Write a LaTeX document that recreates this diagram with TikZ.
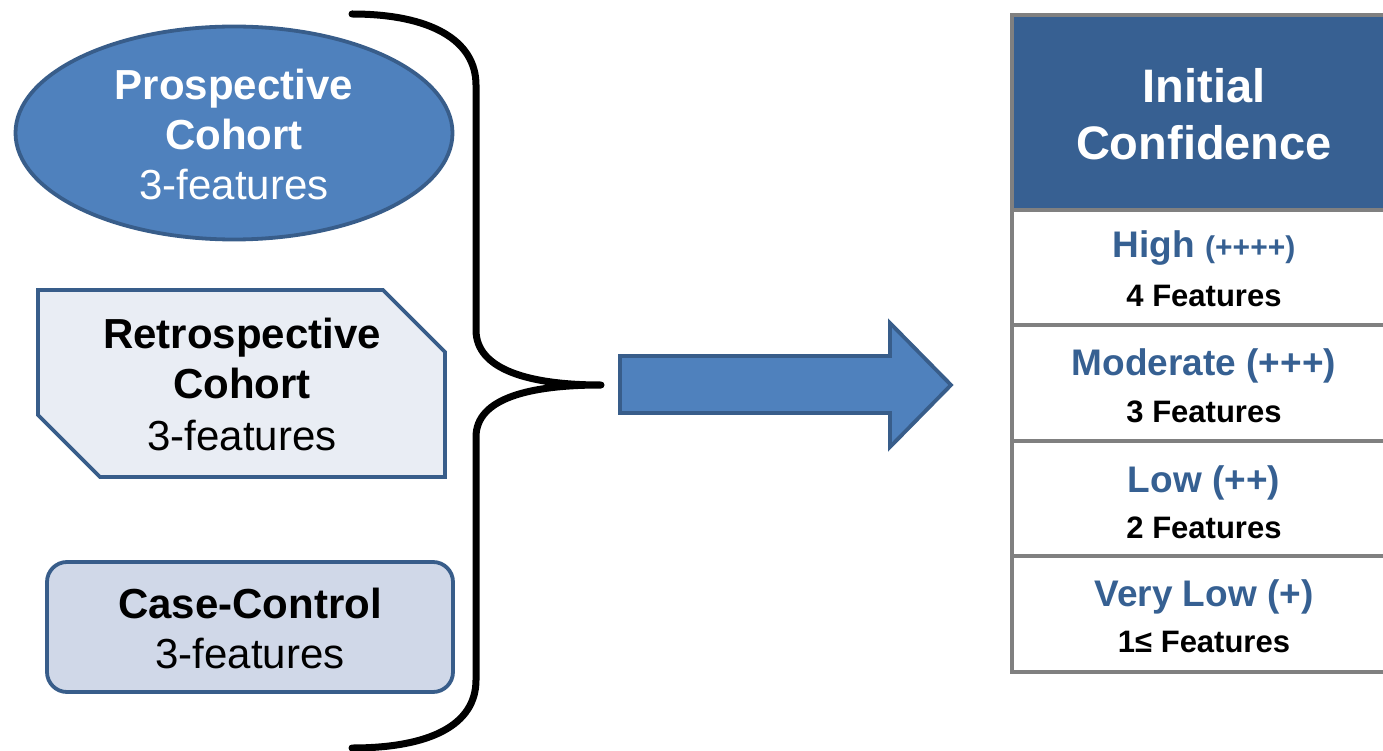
\documentclass[tikz,border=0pt]{standalone}
\usepackage{fontspec}
\setmainfont{Liberation Sans}
\usetikzlibrary{shapes.geometric}

\definecolor{accent}{HTML}{4F81BD}
\definecolor{accentline}{HTML}{385D8A}
\definecolor{headerfill}{HTML}{376092}
\definecolor{paleA}{HTML}{E9EDF4}
\definecolor{paleB}{HTML}{D0D8E8}
\definecolor{rulegray}{HTML}{808080}
\definecolor{levelblue}{HTML}{366092}

\tikzset{
  big/.style={font=\fontsize{42}{50}\selectfont},
  bigbold/.style={font=\bfseries\fontsize{42}{50}\selectfont},
  titletext/.style={font=\bfseries\fontsize{47}{56}\selectfont, text=white},
  leveltext/.style={font=\bfseries\fontsize{37}{44}\selectfont, text=levelblue},
  counttext/.style={font=\bfseries\fontsize{31}{38}\selectfont, text=black},
  shapeline/.style={draw=accentline, line width=3.8pt},
  tablerule/.style={draw=rulegray, line width=3.8pt},
}

\begin{document}
\begin{tikzpicture}[x=1pt, y=-1pt, every node/.style={inner sep=0pt, outer sep=0pt}]
\useasboundingbox (0,0) rectangle (1383,751);
\clip (0,0) rectangle (1383,751);

% study designs on the left
\node[ellipse, shapeline, fill=accent, minimum width=437pt, minimum height=213pt] (pros) at (234,133) {};
\node[bigbold, text=white, anchor=base] (pros1) at (234,100) {Prospective};
\node[bigbold, text=white, anchor=base] (pros2) at (234,150) {Cohort};
\node[big, text=white, anchor=base] (pros3) at (234,200) {3-features};

\draw[shapeline, fill=paleA, line join=miter]
  (38,290) -- (383,290) -- (445,352) -- (445,477) -- (100,477) -- (38,415) -- cycle;
\node[bigbold, anchor=base] (retro1) at (242,348) {Retrospective};
\node[bigbold, anchor=base] (retro2) at (242,398) {Cohort};
\node[big, anchor=base] (retro3) at (242,450) {3-features};

\draw[shapeline, fill=paleB, rounded corners=20pt] (47,562) rectangle (453,692);
\node[bigbold, anchor=base] (case1) at (250,618) {Case-Control};
\node[big, anchor=base] (case2) at (250,668) {3-features};

% grouping brace
\coordinate (btop) at (352,14);
\coordinate (btip) at (601,385);
\coordinate (bbot) at (352,748);
\draw[line width=7pt, line cap=round, line join=round]
  (btop) .. controls (430,14) and (476,40) .. (476,85) -- (476,330)
  .. controls (476,370) and (530,385) .. (btip)
  .. controls (530,385) and (476,398) .. (476,437) -- (476,680)
  .. controls (476,725) and (430,748) .. (bbot);

% block arrow
\draw[shapeline, fill=accent, line join=miter]
  (620,356) -- (890,356) -- (890,323) -- (951,385) -- (890,447) -- (890,413) -- (620,413) -- cycle;

% confidence table
\fill[headerfill] (1012,15) rectangle (1400,210);
\draw[tablerule] (1400,15) -- (1012,15) -- (1012,672) -- (1400,672);
\foreach \yy in {210,325,441,556} { \draw[tablerule] (1012,\yy) -- (1400,\yy); }

\node[titletext, anchor=base] (t1) at (1204,103) {Initial};
\node[titletext, anchor=base] (t2) at (1204,160) {Confidence};

\node[leveltext, anchor=base] (l1) at (1204,258) {High {\fontsize{30}{36}\selectfont(++++)}};
\node[counttext, anchor=base] (c1) at (1204,306) {4 Features};
\node[leveltext, anchor=base] (l2) at (1204,375) {Moderate (+++)};
\node[counttext, anchor=base] (c2) at (1204,422) {3 Features};
\node[leveltext, anchor=base] (l3) at (1204,492) {Low (++)};
\node[counttext, anchor=base] (c3) at (1204,538) {2 Features};
\node[leveltext, anchor=base] (l4) at (1204,606) {Very Low (+)};
\node[counttext, anchor=base] (c4) at (1204,652) {1≤ Features};
\end{tikzpicture}
\end{document}
